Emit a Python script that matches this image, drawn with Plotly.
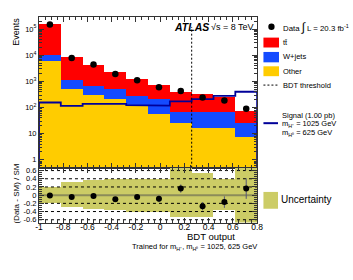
import plotly.graph_objects as go
import numpy as np

# ---------------- data ----------------
bin_edges = [-1.0, -0.82, -0.64, -0.46, -0.28, -0.10, 0.08, 0.26, 0.44, 0.62, 0.80]
other = [6000, 510, 300, 205, 130, 56, 25, 17, 17, 7.6]
wjets = [4000, 610, 365, 320, 140, 154, 45, 53, 53, 18]
ttbar = [140000, 7400, 3700, 1700, 930, 510, 315, 260, 180, 51]
data = [150000, 7800, 4400, 1900, 1090, 590, 430, 240, 185, 89]
signal = [155, 116, 138, 138, 123, 118, 170, 210, 277, 400]
ratio = [-0.01, -0.045, -0.02, -0.10, -0.045, -0.09, 0.16, -0.27, -0.17, 0.16]
ratio_err = [0.005, 0.01, 0.015, 0.02, 0.03, 0.08, 0.10, 0.10, 0.14, 0.25]
unc_up = [0.20, 0.32, 0.38, 0.40, 0.40, 0.40, 0.70, 0.54, 0.40, 0.70]
unc_down = [0.18, 0.29, 0.33, 0.36, 0.41, 0.40, 0.53, 0.53, 0.37, 0.70]
bdt_threshold = 0.26
x_ticks = [-1, -0.8, -0.6, -0.4, -0.2, 0, 0.2, 0.4, 0.6, 0.8]
x_ticktext = ["-1", "-0.8", "-0.6", "-0.4", "-0.2", "0", "0.2", "0.4", "0.6", "0.8"]
y_ticks = [1, 10, 100, 1000, 10000, 100000]
y_ticktext = ["1", "10", "10<sup>2</sup>", "10<sup>3</sup>", "10<sup>4</sup>", "10<sup>5</sup>"]
r_ticks = [0.6, 0.4, 0.2, 0, -0.2, -0.4, -0.6]
r_ticktext = ["0.6", "0.4", "0.2", "0", "-0.2", "-0.4", "-0.6"]

# ---------------- colours / geometry ----------------
RED = "#ff0000"
BLUE = "rgb(20,75,255)"
YELLOW = "rgb(255,204,0)"
OLIVE = "rgb(204,204,102)"
NAVY = "#000099"
FRAME = "#333333"
FONT = "Liberation Sans, Arial, sans-serif"

W, H = 353, 280
def px(x):
    return x / W
def py(y):
    return 1 - y / H

edges = np.array(bin_edges)
centers = (edges[:-1] + edges[1:]) / 2
widths = edges[1:] - edges[:-1]

fig = go.Figure()

# stacked backgrounds
for vals, col in [(other, YELLOW), (wjets, BLUE), (ttbar, RED)]:
    fig.add_trace(go.Bar(x=centers, y=vals, width=widths, marker=dict(color=col, line=dict(width=0)),
                         xaxis="x", yaxis="y", hoverinfo="skip"))

# signal histogram outline
sx, sy = [edges[0]], [0.01]
for i, s in enumerate(signal):
    sx += [edges[i], edges[i + 1]]
    sy += [s, s]
sx.append(edges[-1]); sy.append(0.01)
fig.add_trace(go.Scatter(x=sx, y=sy, mode="lines", line=dict(color=NAVY, width=1.8),
                         xaxis="x", yaxis="y", hoverinfo="skip"))

# BDT threshold
fig.add_trace(go.Scatter(x=[bdt_threshold, bdt_threshold], y=[0.5, 1.2e5], mode="lines",
                         line=dict(color="black", width=1, dash="2px,2px"), xaxis="x", yaxis="y"))

# data
fig.add_trace(go.Scatter(x=centers, y=data, mode="markers", marker=dict(color="black", size=6.5),
                         xaxis="x", yaxis="y"))

# ratio: uncertainty band
fig.add_trace(go.Bar(x=centers, y=np.array(unc_up) + np.array(unc_down), base=-np.array(unc_down),
                     width=widths, marker=dict(color=OLIVE, line=dict(width=0)), xaxis="x2", yaxis="y2"))
# dotted reference lines
for v in [0.6, 0.4, 0.2, -0.2, -0.4, -0.6]:
    fig.add_trace(go.Scatter(x=[edges[0], edges[-1]], y=[v, v], mode="lines",
                             line=dict(color="black", width=1, dash="dot"), xaxis="x2", yaxis="y2"))
fig.add_trace(go.Scatter(x=[edges[0], edges[-1]], y=[0, 0], mode="lines",
                         line=dict(color="rgb(140,140,90)", width=2), xaxis="x2", yaxis="y2"))
fig.add_trace(go.Scatter(x=centers, y=ratio, mode="markers",
                         marker=dict(color="black", size=6),
                         error_y=dict(type="data", array=ratio_err, color="#555577", thickness=1, width=0),
                         xaxis="x2", yaxis="y2"))

axis_common = dict(showline=True, linecolor=FRAME, linewidth=1, mirror="ticks", ticks="inside",
                   ticklen=5, tickcolor=FRAME, showgrid=False, zeroline=False)

minor_log = [m * 10 ** k for k in range(-1, 6) for m in range(2, 10)]

fig.update_layout(
    width=W, height=H, margin=dict(l=0, r=0, t=0, b=0),
    paper_bgcolor="white", plot_bgcolor="white", showlegend=False,
    barmode="stack", bargap=0,
    font=dict(family=FONT, size=9, color="black"),
    xaxis=dict(domain=[px(36), px(260.5)], range=[-1, 0.8], anchor="y", showticklabels=False,
               tickvals=x_ticks, minor=dict(ticks="inside", ticklen=3, dtick=0.05, tick0=-1, tickcolor=FRAME),
               **axis_common),
    yaxis=dict(domain=[py(168.5), py(15.7)], type="log", range=[np.log10(0.5), np.log10(3e5)], anchor="x",
               tickvals=y_ticks, ticktext=y_ticktext,
               tickfont=dict(family=FONT, size=7.5, color="black"),
               minor=dict(ticks="inside", ticklen=3, tickvals=minor_log, tickcolor=FRAME),
               **axis_common),
    xaxis2=dict(domain=[px(36), px(260.5)], range=[-1, 0.8], anchor="y2",
                tickvals=x_ticks, ticktext=x_ticktext, ticklabelstandoff=-4,
                tickfont=dict(family=FONT, size=8.5, color="black"),
                minor=dict(ticks="inside", ticklen=3, dtick=0.05, tick0=-1, tickcolor=FRAME),
                **axis_common),
    yaxis2=dict(domain=[py(224), py(168.5)], range=[-0.67, 0.67], anchor="x2",
                tickvals=r_ticks, ticktext=r_ticktext,
                tickfont=dict(family=FONT, size=7.5, color="black"),
                minor=dict(ticks="inside", ticklen=3, dtick=0.05, tick0=0, tickcolor=FRAME),
                **axis_common),
)

shapes = []
def rect(x0, x1, y0, y1, col):
    shapes.append(dict(type="rect", xref="paper", yref="paper", x0=px(x0), x1=px(x1), y0=py(y1), y1=py(y0),
                       fillcolor=col, line=dict(width=0)))
shapes.append(dict(type="circle", xref="paper", yref="paper", x0=px(272), x1=px(278.5), y0=py(29.3), y1=py(22.7),
                   fillcolor="black", line=dict(width=0)))
rect(267, 283, 37, 47, RED)
rect(267, 283, 51.5, 62, BLUE)
rect(267, 283, 66, 76, YELLOW)
rect(267, 282, 193, 210, OLIVE)
shapes.append(dict(type="line", xref="paper", yref="paper", x0=px(267), x1=px(282), y0=py(85), y1=py(85),
                   line=dict(color="black", width=1, dash="2px,2px")))
shapes.append(dict(type="line", xref="paper", yref="paper", x0=px(267), x1=px(282), y0=py(123.5), y1=py(123.5),
                   line=dict(color=NAVY, width=2)))
fig.update_layout(shapes=shapes)

ann = []
def text(x, y, t, size=7.5, anchor="left", angle=0, yanchor="middle"):
    ann.append(dict(x=px(x), y=py(y), xref="paper", yref="paper", text=t, showarrow=False,
                    xanchor=anchor, yanchor=yanchor, textangle=angle,
                    font=dict(family=FONT, size=size, color="black")))

text(285.5, 26, "Data <span style='font-size:12px'>∫</span> L = 20.3 fb<sup>-1</sup>", size=7.8)
text(285.5, 42, "tt\u0304")
text(285.5, 56.5, "W+jets")
text(285.5, 71, "Other")
text(285.5, 85, "BDT threshold")
text(284, 116, "Signal (1.00 pb)")
text(284, 124.5, "m<sub>H\u207a</sub> = 1025 GeV")
text(284, 133, "m<sub>H\u2070</sub> = 625 GeV")
text(283.5, 201, "Uncertainty", size=10)
text(172.5, 26, "<b><i>ATLAS</i></b>", size=10.5)
text(211, 26, "\u221as = 8 TeV", size=9)
text(13, 31.5, "Events", size=9, anchor="center", angle=-90)
text(13, 195, "(Data - SM) / SM", size=8, anchor="center", angle=-90)
text(240, 238.5, "BDT output", size=9.5, anchor="right")
text(196.5, 249, "Trained for m<sub>H\u207a</sub>, m<sub>H\u2070</sub> = 1025, 625 GeV", size=7.5, anchor="center")
fig.update_layout(annotations=ann)

fig.write_html("out.html", config={"displayModeBar": False, "staticPlot": True})

# remove the browser's default page margin so the figure sits at the window's top-left corner
with open("out.html", "r", encoding="utf-8") as f:
    html = f.read()
html = html.replace("<head>", "<head><style>html,body{margin:0;padding:0;overflow:hidden;}</style>", 1)
with open("out.html", "w", encoding="utf-8") as f:
    f.write(html)
